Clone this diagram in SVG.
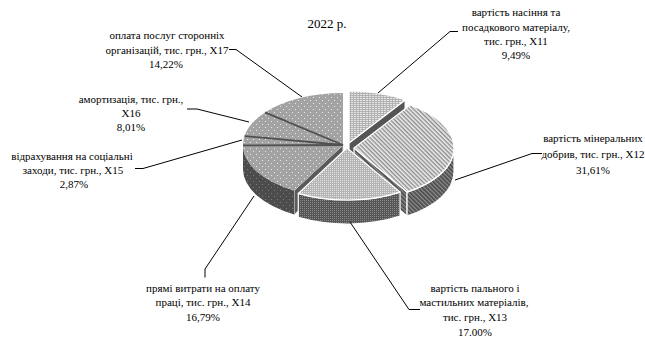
<svg xmlns="http://www.w3.org/2000/svg" width="645" height="340" viewBox="0 0 645 340">
  <style>
    .lbl { font-family: "Liberation Serif", "Times New Roman", serif; font-size: 11px; fill: #000; text-anchor: middle; }
    .title { font-family: "Liberation Serif", "Times New Roman", serif; font-size: 13px; fill: #000; text-anchor: middle; }
    .lead { fill: none; stroke: #000; stroke-width: 1; }
    .ex { stroke: #fff; stroke-width: 1.2; stroke-linejoin: round; }
    .sep { stroke: #505050; stroke-width: 1.8; }
  </style>
  <defs>
    <!-- grey with white dot grid: left group tops -->
    <pattern id="pDotTop" width="6" height="6" patternUnits="userSpaceOnUse">
      <rect width="6" height="6" fill="#a3a3a3"/>
      <rect x="1" y="1" width="1" height="1" fill="#e8e8e8"/>
      <rect x="4" y="4" width="1" height="1" fill="#e8e8e8"/>
    </pattern>
    <pattern id="pDotSide" width="6" height="6" patternUnits="userSpaceOnUse">
      <rect width="6" height="6" fill="#4c4c4c"/>
      <rect x="1" y="1" width="1" height="1" fill="#7c7c7c"/>
      <rect x="4" y="4" width="1" height="1" fill="#7c7c7c"/>
    </pattern>
    <!-- fine checker: fuel slice -->
    <pattern id="pFineTop" width="2" height="2" patternUnits="userSpaceOnUse">
      <rect width="2" height="2" fill="#b4b4b4"/>
      <rect width="1" height="1" fill="#e4e4e4"/>
    </pattern>
    <pattern id="pFineSide" width="2" height="2" patternUnits="userSpaceOnUse">
      <rect width="2" height="2" fill="#555"/>
      <rect width="1" height="1" fill="#8a8a8a"/>
    </pattern>
    <!-- short dashes: seed slice -->
    <pattern id="pDashTop" width="3" height="2" patternUnits="userSpaceOnUse">
      <rect width="3" height="2" fill="#b2b2b2"/>
      <rect width="2" height="1" fill="#e6e6e6"/>
    </pattern>
    <!-- diagonal stripes: fertiliser slice -->
    <pattern id="pDiagTop" width="3" height="3" patternUnits="userSpaceOnUse" patternTransform="rotate(45)">
      <rect width="3" height="3" fill="#eeeeee"/>
      <rect width="3" height="1.4" fill="#8c8c8c"/>
    </pattern>
    <pattern id="pDiagSide" width="3" height="3" patternUnits="userSpaceOnUse" patternTransform="rotate(45)">
      <rect width="3" height="3" fill="#4a4a4a"/>
      <rect width="3" height="1.3" fill="#8e8e8e"/>
    </pattern>
  </defs>

  <rect width="645" height="340" fill="#fff"/>

  <text class="title" x="327" y="28">2022 р.</text>

  <!-- slices, drawn back to front -->
  <g id="x17">
    <path d="M343,145 L265.04,112.43 A100,52 0 0 1 343,93 Z" fill="url(#pDotTop)"/>
    <text class="lbl" x="167" y="38.5">оплата послуг сторонніх</text>
    <text class="lbl" x="167" y="53.5">організацій, тис. грн., X17</text>
    <text class="lbl" x="166" y="67.5">14,22%</text>
  </g>
  <g id="x16">
    <path d="M343,145 L244.5,136.03 A100,52 0 0 1 265.04,112.43 Z" fill="url(#pDotTop)"/>
    <text class="lbl" x="131" y="103">амортизація, тис. грн.,</text>
    <text class="lbl" x="131" y="116.5">X16</text>
    <text class="lbl" x="131" y="130.5">8,01%</text>
  </g>
  <g id="x15">
    <path d="M343,145 L243,145.36 A100,52 0 0 1 244.5,136.03 Z" fill="url(#pDotTop)"/>
    <text class="lbl" x="72" y="159.5">відрахування на соціальні</text>
    <text class="lbl" x="73" y="174">заходи, тис. грн., X15</text>
    <text class="lbl" x="74" y="188">2,87%</text>
  </g>
  <g id="x11">
    <path class="ex" d="M349,143 L405.15,99.97 L405.15,123.97 L349,167 Z" fill="#555"/>
    <path class="ex" d="M349,143 L349,91 A100,52 0 0 1 405.15,99.97 Z" fill="url(#pDashTop)"/>
    <text class="lbl" x="516" y="16">вартість насіння та</text>
    <text class="lbl" x="516" y="30.5">посадкового матеріалу,</text>
    <text class="lbl" x="516" y="44.5">тис. грн., X11</text>
    <text class="lbl" x="516" y="58.5">9,49%</text>
  </g>
  <g id="x12">
    <path class="ex" d="M354,148 L407.05,192.08 L407.05,216.08 L354,172 Z" fill="url(#pDiagSide)"/>
    <path class="ex" d="M454,148 A100,52 0 0 1 407.05,192.08 L407.05,216.08 A100,52 0 0 0 454,172 Z" fill="url(#pDiagSide)"/>
    <path class="ex" d="M354,148 L410.15,104.97 A100,52 0 0 1 407.05,192.08 Z" fill="url(#pDiagTop)"/>
    <text class="lbl" x="593" y="142">вартість мінеральних</text>
    <text class="lbl" x="593" y="158">добрив, тис. грн., X12</text>
    <text class="lbl" x="593" y="173.5">31,61%</text>
  </g>
  <g id="x14">
    <path d="M343,145 L294.28,190.41 L294.28,214.41 L343,169 Z" fill="#5a5a5a" stroke="#ddd" stroke-width="1"/>
    <path d="M294.28,190.41 A100,52 0 0 1 243,145.36 L243,169.36 A100,52 0 0 0 294.28,214.41 Z" fill="url(#pDotSide)"/>
    <path d="M343,145 L294.28,190.41 A100,52 0 0 1 243,145.36 Z" fill="url(#pDotTop)"/>
    <line class="sep" x1="343" y1="145" x2="243" y2="145.36"/>
    <line class="sep" x1="343" y1="145" x2="244.5" y2="136.03" stroke-width="1.2"/>
    <line class="sep" x1="343" y1="145" x2="265.04" y2="112.43"/>
    <text class="lbl" x="203" y="291.5">прямі витрати на оплату</text>
    <text class="lbl" x="203" y="306">праці, тис. грн., X14</text>
    <text class="lbl" x="203" y="320.5">16,79%</text>
  </g>
  <g id="x13">
    <path class="ex" d="M400.05,192.08 A100,52 0 0 1 298.28,193.41 L298.28,217.41 A100,52 0 0 0 400.05,216.08 Z" fill="url(#pFineSide)"/>
    <path class="ex" d="M347,148 L400.05,192.08 A100,52 0 0 1 298.28,193.41 Z" fill="url(#pFineTop)"/>
    <text class="lbl" x="475" y="291.5">вартість пального і</text>
    <text class="lbl" x="474" y="306">мастильних матеріалів,</text>
    <text class="lbl" x="475" y="321">тис. грн., X13</text>
    <text class="lbl" x="475" y="335.5">17.00%</text>
  </g>

  <!-- leader lines -->
  <g id="connectors">
    <polyline class="lead" points="458,31.5 450,31.5 378,93"/>
    <polyline class="lead" points="542,153.5 532,153.5 455,180"/>
    <polyline class="lead" points="420,309.5 409,309.5 350,222"/>
    <polyline class="lead" points="205,277.5 205,269 254,196"/>
    <polyline class="lead" points="135,168.5 143,168.5 242,140"/>
    <polyline class="lead" points="187,109 197,109 249,122"/>
    <polyline class="lead" points="229,49.5 236,49.5 302,97"/>
  </g>
</svg>
